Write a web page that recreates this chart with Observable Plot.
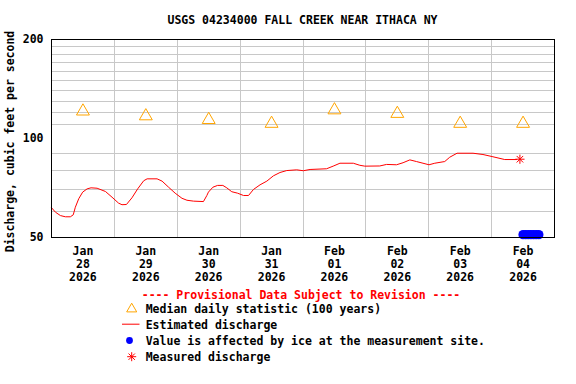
<!DOCTYPE html>
<html>
<head>
<meta charset="utf-8">
<script src="https://cdn.jsdelivr.net/npm/d3@7"></script>
<script src="https://cdn.jsdelivr.net/npm/@observablehq/plot@0.6"></script>
<style>
  body { margin: 0; background: #fff; }
  #wrap { position: relative; width: 576px; height: 384px; overflow: hidden; background: #fff; }
  #wrap > svg { position: absolute; left: 0; top: 0; }
</style>
</head>
<body>
<div id="wrap"></div>
<script>
// ---------- data (hours since 2026-01-28 00:00) ----------
const titleText = "USGS 04234000 FALL CREEK NEAR ITHACA NY";
const yLabel = "Discharge, cubic feet per second";
const yTicks = [50, 100, 200];
const yGrid = [60, 70, 80, 90, 110, 120, 130, 140, 150, 160, 170, 180, 190];

const lineHours = [0, 1.5, 3.4, 5.3, 7.2, 8.3, 9.1, 10.4, 11.9, 13.6, 15.1, 17.4, 20.6, 23.1, 25.6,
  26.9, 28.6, 30.7, 32.9, 35.2, 36.5, 40.3, 42.2, 44.7, 47.2, 49.8, 51.7, 54.2, 58.0, 59.3,
  59.9, 61.6, 63.4, 65.4, 66.9, 68.8, 71.0, 73.3, 75.2, 77.1, 79.6, 82.2, 84.7, 87.2, 89.8,
  93.6, 96.1, 98.7, 105.0, 107.5, 110.1, 115.2, 117.7, 119.6, 125.3, 127.9, 131.7, 134.2, 136.8, 139.3,
  141.8, 144.1, 146.3, 150.1, 152.0, 154.8, 160.9, 164.7, 168.5, 173.0, 177.5];
const lineCfs = [61.6, 59.7, 58.3, 57.8, 57.8, 58.6, 61.8, 65.6, 68.7, 70.3, 70.8, 70.6, 69.0, 66.3, 63.6,
  62.9, 63.0, 66.0, 70.3, 74.4, 75.4, 75.4, 74.2, 71.1, 68.2, 65.8, 64.9, 64.5, 64.3, 67.1,
  68.7, 71.1, 72.0, 72.0, 70.8, 68.9, 68.2, 67.1, 67.1, 70.0, 72.3, 74.2, 77.0, 78.8, 79.9,
  80.3, 79.8, 80.5, 80.9, 82.4, 84.1, 84.1, 82.9, 82.4, 82.5, 83.4, 83.2, 84.4, 86.1, 85.1,
  84.1, 83.2, 84.1, 85.1, 87.7, 90.2, 90.2, 89.4, 88.0, 86.3, 86.3];

const medianDays = [0, 1, 2, 3, 4, 5, 6, 7];          // day index, plotted at noon
const medianCfs = [121, 117, 114, 111, 122, 119, 111, 111];

const iceHours = [180, 181, 182, 183, 184, 185, 186];
const iceCfs = [51, 51, 51, 51, 51, 51, 51];

const measHours = [178.8];
const measCfs = [86.5];

const legendHeader = "---- Provisional Data Subject to Revision ----";
const legendLabels = ["Median daily statistic (100 years)", "Estimated discharge",
  "Value is affected by ice at the measurement site.", "Measured discharge"];

// ---------- build ----------
const base = Date.UTC(2026, 0, 28);
const H = 3600e3;
const toDate = h => new Date(base + h * H);
const line = lineHours.map((h, i) => ({t: toDate(h), v: lineCfs[i]}));
const medians = medianDays.map((d, i) => ({t: toDate(d * 24 + 12), v: medianCfs[i]}));
const ice = iceHours.map((h, i) => ({t: toDate(h), v: iceCfs[i]}));
const meas = measHours.map((h, i) => ({t: toDate(h), v: measCfs[i]}));
const dayBounds = d3.range(1, 8).map(d => toDate(d * 24));
const noons = medianDays.map(d => toDate(d * 24 + 12));

const asterisk8 = {
  draw(ctx, size) {
    const r = Math.sqrt(size / Math.PI), d = r * Math.SQRT1_2;
    ctx.moveTo(0, -r); ctx.lineTo(0, r);
    ctx.moveTo(-r, 0); ctx.lineTo(r, 0);
    ctx.moveTo(-d, -d); ctx.lineTo(d, d);
    ctx.moveTo(-d, d); ctx.lineTo(d, -d);
  }
};

const FONT = "'DejaVu Sans Mono', monospace";

const chart = Plot.plot({
  width: 576, height: 384,
  marginLeft: 51, marginRight: 22, marginTop: 39, marginBottom: 147,
  style: {fontFamily: FONT, fontSize: "11.5px", fontWeight: "bold", color: "black", background: "white"},
  x: {type: "utc", domain: [toDate(0), toDate(8 * 24)]},
  y: {type: "log", domain: [50, 200]},
  marks: [
    Plot.gridY(yGrid, {stroke: "#c8c8c8", strokeOpacity: 1, shapeRendering: "crispEdges"}),
    Plot.gridX(dayBounds, {stroke: "#c8c8c8", strokeOpacity: 1, shapeRendering: "crispEdges"}),
    Plot.line(line, {x: "t", y: "v", stroke: "red", strokeWidth: 1}),
    Plot.dot(medians, {x: "t", y: "v", symbol: "triangle", r: 4.8, stroke: "orange", fill: "none", strokeWidth: 1}),
    Plot.dot(ice, {x: "t", y: "v", r: 4.7, fill: "blue", stroke: "none"}),
    Plot.dot(meas, {x: "t", y: "v", symbol: asterisk8, r: 4.6, stroke: "red", fill: "none", strokeWidth: 1}),
    Plot.axisY(yTicks, {tickSize: 0, tickPadding: 8, tickFormat: d => String(d), label: null}),
    Plot.axisX(noons, {tickSize: 0, tickPadding: 8, tickFormat: d3.utcFormat("%b\n%d\n%Y"),
      lineHeight: 1.13, label: null}),
    Plot.frame({stroke: "black", shapeRendering: "crispEdges"})
  ]
});

const wrap = document.getElementById("wrap");
wrap.appendChild(chart);

// ---------- title, y label, legend overlay ----------
const ov = d3.select(wrap).append("svg")
  .attr("width", 576).attr("height", 384)
  .style("font-family", FONT).style("font-size", "11.5px").style("font-weight", "bold")
  .style("pointer-events", "none");

ov.append("text").attr("x", 302.5).attr("y", 24).attr("text-anchor", "middle").text(titleText);

ov.append("text").attr("transform", "translate(14,141.5) rotate(-90)")
  .attr("text-anchor", "middle").text(yLabel);

ov.append("text").attr("x", 301).attr("y", 299).attr("text-anchor", "middle").attr("fill", "red").text(legendHeader);

const rowY = [313.3, 329.2, 345, 360.7];
const g = ov.selectAll("g.row").data(legendLabels).join("g").attr("class", "row")
  .attr("transform", (d, i) => `translate(0,${rowY[i]})`);
g.append("text").attr("x", 145.7).text(d => d);

// symbols
g.filter((d, i) => i === 0).append("path")
  .attr("transform", "translate(131.7,-4.3)")
  .attr("d", d3.symbol(d3.symbolTriangle2, Math.PI * 4.8 * 4.8)())
  .attr("fill", "none").attr("stroke", "orange");
g.filter((d, i) => i === 1).append("line")
  .attr("x1", 122).attr("x2", 139.5).attr("y1", -5).attr("y2", -5)
  .attr("stroke", "red");
g.filter((d, i) => i === 2).append("circle")
  .attr("cx", 129.5).attr("cy", -4.5).attr("r", 3.4).attr("fill", "blue");
g.filter((d, i) => i === 3).append("path")
  .attr("transform", "translate(131.7,-4)")
  .attr("d", d3.symbol(asterisk8, Math.PI * 4.5 * 4.5)())
  .attr("fill", "none").attr("stroke", "red");
</script>
</body>
</html>
